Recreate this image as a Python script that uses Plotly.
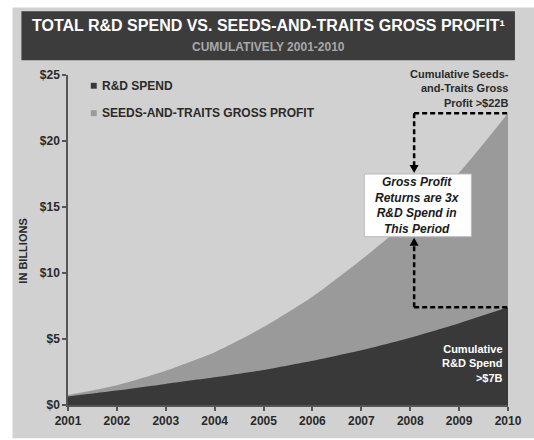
import plotly.graph_objects as go

years = [2001, 2002, 2003, 2004, 2005, 2006, 2007, 2008, 2009, 2010]
rd_spend = [0.65, 1.1, 1.6, 2.1, 2.65, 3.35, 4.15, 5.1, 6.2, 7.4]
gross_profit = [0.75, 1.5, 2.6, 4.0, 5.9, 8.2, 11.0, 14.1, 17.6, 22.1]
y_ticks = [0, 5, 10, 15, 20, 25]
y_tick_labels = ["$0", "$5", "$10", "$15", "$20", "$25"]

BG = "#d1d1d1"
DARK = "#393939"
MID = "#9a9a9a"
FONT = "Arial, Liberation Sans, sans-serif"

W, H = 534, 440
L, R, T, B = 68, 22, 75, 28
PW, PH = W - L - R, H - T - B


def px(x):
    return (x - L) / PW


def py(y):
    return (H - B - y) / PH


fig = go.Figure()
fig.add_trace(go.Scatter(x=years, y=gross_profit, mode="lines", fill="tozeroy",
                         fillcolor=MID, line=dict(width=0, color=MID, shape="spline", smoothing=0.6),
                         name="SEEDS-AND-TRAITS GROSS PROFIT", hoverinfo="skip"))
fig.add_trace(go.Scatter(x=years, y=rd_spend, mode="lines", fill="tozeroy",
                         fillcolor=DARK, line=dict(width=0, color=DARK, shape="spline", smoothing=0.6),
                         name="R&D SPEND", hoverinfo="skip"))

shapes = []
# outer light background
shapes.append(dict(type="rect", xref="paper", yref="paper", x0=px(12), x1=px(540), y0=py(446), y1=py(6),
                   fillcolor=BG, line=dict(width=0), layer="below"))
# title box
shapes.append(dict(type="rect", xref="paper", yref="paper", x0=px(21), x1=px(519), y0=py(60), y1=py(10),
                   fillcolor="#3c3c3c", line=dict(width=0), layer="below"))
# legend squares
shapes.append(dict(type="rect", xref="paper", yref="paper", x0=px(91), x1=px(97), y0=py(89), y1=py(83),
                   fillcolor=DARK, line=dict(width=0)))
shapes.append(dict(type="rect", xref="paper", yref="paper", x0=px(91), x1=px(97), y0=py(117), y1=py(111),
                   fillcolor=MID, line=dict(width=0)))

x_arrow = 2008.08
box_top, box_bot = 17.5, 12.75
dash = dict(color="black", width=2.5, dash="5px,3px")
top_val = gross_profit[-1]
bot_val = rd_spend[-1]
shapes.append(dict(type="line", xref="x", yref="y", x0=x_arrow, x1=years[-1], y0=top_val, y1=top_val, line=dash))
shapes.append(dict(type="line", xref="x", yref="y", x0=x_arrow, x1=x_arrow, y0=top_val, y1=box_top + 0.5, line=dash))
shapes.append(dict(type="line", xref="x", yref="y", x0=x_arrow, x1=years[-1], y0=bot_val, y1=bot_val, line=dash))
shapes.append(dict(type="line", xref="x", yref="y", x0=x_arrow, x1=x_arrow, y0=bot_val, y1=box_bot - 0.5, line=dash))
# white box
shapes.append(dict(type="rect", xref="x", yref="y", x0=2007.06, x1=2009.25, y0=box_bot, y1=box_top,
                   fillcolor="white", line=dict(width=1, color="#bbbbbb")))
# arrowheads (pixel-sized, anchored to data points)
shapes.append(dict(type="path", xref="x", yref="y", xsizemode="pixel", ysizemode="pixel",
                   xanchor=x_arrow, yanchor=box_top, path="M -4.5 9 L 4.5 9 L 0 1 Z",
                   fillcolor="black", line=dict(width=0)))
shapes.append(dict(type="path", xref="x", yref="y", xsizemode="pixel", ysizemode="pixel",
                   xanchor=x_arrow, yanchor=box_bot, path="M -4.5 -9 L 4.5 -9 L 0 -1 Z",
                   fillcolor="black", line=dict(width=0)))

annotations = [
    dict(xref="paper", yref="paper", x=px(270), y=py(24),
         text="<b>TOTAL R&D SPEND VS. SEEDS-AND-TRAITS GROSS PROFIT¹</b>",
         showarrow=False, font=dict(family=FONT, size=16, color="white"), xanchor="center", yanchor="middle"),
    dict(xref="paper", yref="paper", x=px(270), y=py(46), text="<b>CUMULATIVELY 2001-2010</b>",
         showarrow=False, font=dict(family=FONT, size=12, color="#a8a8a8"), xanchor="center", yanchor="middle"),
    dict(xref="paper", yref="paper", x=px(100), y=py(86), text="<b>R&D SPEND</b>", showarrow=False,
         font=dict(family=FONT, size=12, color="#2a2a2a"), xanchor="left", yanchor="middle"),
    dict(xref="paper", yref="paper", x=px(100), y=py(114), text="<b>SEEDS-AND-TRAITS GROSS PROFIT</b>", showarrow=False,
         font=dict(family=FONT, size=12, color="#2a2a2a"), xanchor="left", yanchor="middle"),
    dict(xref="paper", yref="paper", x=px(23), y=py(255), text="<b>IN BILLIONS</b>", textangle=-90, showarrow=False,
         font=dict(family=FONT, size=11, color="#2a2a2a"), xanchor="center", yanchor="middle"),
    dict(xref="paper", yref="paper", x=px(515), y=py(89), align="right",
         text="<b>Cumulative Seeds-<br>and-Traits Gross<br>Profit >$22B</b>", showarrow=False,
         font=dict(family=FONT, size=11, color="#2a2a2a"), xanchor="right", yanchor="middle"),
    dict(xref="paper", yref="paper", x=px(509), y=py(370), align="right",
         text="<b>Cumulative<br>R&D Spend<br>>$7B</b>", showarrow=False,
         font=dict(family=FONT, size=11, color="white"), xanchor="right", yanchor="middle"),
    dict(xref="x", yref="y", x=(2007.06 + 2009.25) / 2, y=(box_top + box_bot) / 2, align="center",
         text="<b><i>Gross Profit<br>Returns are 3x<br>R&D Spend in<br>This Period</i></b>", showarrow=False,
         font=dict(family=FONT, size=12, color="#1a1a1a"), xanchor="center", yanchor="middle"),
]

fig.update_layout(
    width=W, height=H,
    margin=dict(l=L, r=R, t=T, b=B, pad=0),
    paper_bgcolor="white",
    plot_bgcolor=BG,
    showlegend=False,
    shapes=shapes,
    annotations=annotations,
    font=dict(family=FONT, color="#2a2a2a"),
)
fig.update_xaxes(range=[years[0], years[-1]], tickmode="array", tickvals=years,
                 ticktext=[f"<b>{y}</b>" for y in years], ticks="outside", ticklen=4, tickwidth=1.5,
                 tickcolor="#555555", showline=True, linecolor="#555555", linewidth=1.5,
                 showgrid=False, zeroline=False, tickfont=dict(family=FONT, size=12, color="#2a2a2a"))
fig.update_yaxes(range=[0, 25], tickmode="array", tickvals=y_ticks,
                 ticktext=[f"<b>{t}</b>" for t in y_tick_labels], ticks="outside", ticklen=4, tickwidth=1.5,
                 tickcolor="#555555", showline=True, linecolor="#555555", linewidth=1.5,
                 showgrid=False, zeroline=False, tickfont=dict(family=FONT, size=12, color="#2a2a2a"))

fig.write_html("out.html", config={"displayModeBar": False},
               post_script="document.body.style.margin='0';document.body.style.overflow='hidden';")
